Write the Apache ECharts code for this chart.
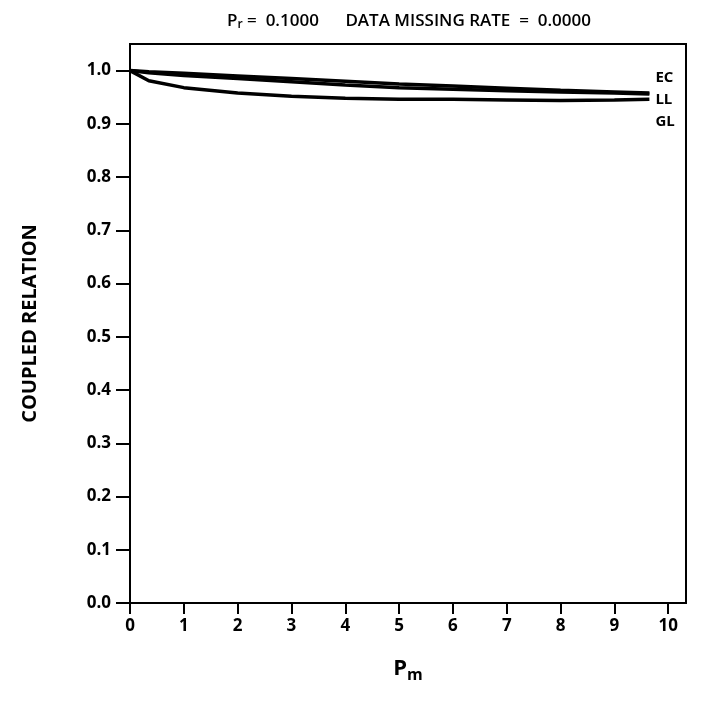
<!DOCTYPE html>
<html>
<head>
<meta charset="utf-8">
<script src="https://cdn.jsdelivr.net/npm/echarts@6/dist/echarts.min.js"></script>
<style>
  html, body { margin: 0; padding: 0; background: #fff; }
  #chart { width: 704px; height: 713px; }
</style>
</head>
<body>
<div id="chart"></div>
<script>
  // P_m values where the curves were read
  var pm = [0, 0.35, 1, 2, 3, 4, 5, 6, 7, 8, 9, 9.65]
  var ecVals = [1.0, 0.998, 0.995, 0.99, 0.985, 0.98, 0.975, 0.971, 0.967, 0.963, 0.96, 0.958]
  var llVals = [1.0, 0.996, 0.991, 0.985, 0.979, 0.973, 0.968, 0.965, 0.962, 0.96, 0.958, 0.956]
  var glVals = [1.0, 0.981, 0.968, 0.958, 0.952, 0.948, 0.946, 0.946, 0.945, 0.944, 0.945, 0.946]
  var xTicks = [0, 1, 2, 3, 4, 5, 6, 7, 8, 9, 10]
  var yTicks = [0, 0.1, 0.2, 0.3, 0.4, 0.5, 0.6, 0.7, 0.8, 0.9, 1.0]

  var font = 'Open Sans'

  function pairs(vals) {
    return pm.map(function (x, i) { return [x, vals[i]] })
  }

  function makeSeries(name, vals, off) {
    return {
      name: name,
      type: 'line',
      data: pairs(vals),
      symbol: 'none',
      lineStyle: { color: '#000', width: 3.5 },
      endLabel: {
        show: true,
        formatter: name,
        offset: off,
        distance: 6,
        color: '#000',
        fontFamily: font,
        fontWeight: 'bold',
        fontSize: 15
      }
    }
  }

  var chart = echarts.init(document.getElementById('chart'))
  chart.setOption({
    animation: false,
    backgroundColor: '#fff',
    title: {
      text: '{p|P}{s|r}{t| =  0.1000      DATA MISSING RATE  =  0.0000}',
      left: 404,
      textAlign: 'center',
      top: 6,
      textStyle: {
        rich: {
          p: { fontFamily: font, fontSize: 17, fontWeight: 600, color: '#000' },
          s: { fontFamily: font, fontSize: 12, fontWeight: 600, color: '#000', verticalAlign: 'bottom', padding: [8, 0, 0, 0] },
          t: { fontFamily: font, fontSize: 17, fontWeight: 600, color: '#000' }
        }
      }
    },
    grid: {
      left: 130,
      right: 18,
      top: 44,
      bottom: 110,
      show: true,
      borderColor: '#000',
      borderWidth: 2,
      containLabel: false
    },
    xAxis: {
      type: 'value',
      min: 0,
      max: 10.33,
      name: '{p|P}{s|m}',
      nameLocation: 'middle',
      nameGap: 52,
      nameTextStyle: {
        rich: {
          p: { fontFamily: font, fontSize: 22, fontWeight: 'bold', color: '#000' },
          s: { fontFamily: font, fontSize: 16, fontWeight: 'bold', color: '#000', verticalAlign: 'bottom', padding: [12, 0, 0, 0] }
        }
      },
      axisLine: { lineStyle: { color: '#000', width: 2 } },
      axisTick: { customValues: xTicks, length: 11, lineStyle: { color: '#000', width: 2 } },
      axisLabel: {
        customValues: xTicks,
        margin: 15,
        color: '#000',
        fontFamily: font,
        fontWeight: 'bold',
        fontSize: 17
      },
      splitLine: { show: false }
    },
    yAxis: {
      type: 'value',
      min: 0,
      max: 1.05,
      name: 'COUPLED RELATION',
      nameLocation: 'middle',
      nameGap: 90,
      nameRotate: 90,
      nameTextStyle: { fontFamily: font, fontSize: 20, fontWeight: 'bold', color: '#000' },
      axisLine: { lineStyle: { color: '#000', width: 2 } },
      axisTick: { customValues: yTicks, length: 14, lineStyle: { color: '#000', width: 2 } },
      axisLabel: {
        customValues: yTicks,
        margin: 19,
        color: '#000',
        fontFamily: font,
        fontWeight: 'bold',
        fontSize: 17,
        formatter: function (v) { return v.toFixed(1) }
      },
      splitLine: { show: false }
    },
    series: [
      makeSeries('EC', ecVals, [0, -15]),
      makeSeries('LL', llVals, [0, 6]),
      makeSeries('GL', glVals, [0, 22])
    ]
  })
</script>
</body>
</html>
